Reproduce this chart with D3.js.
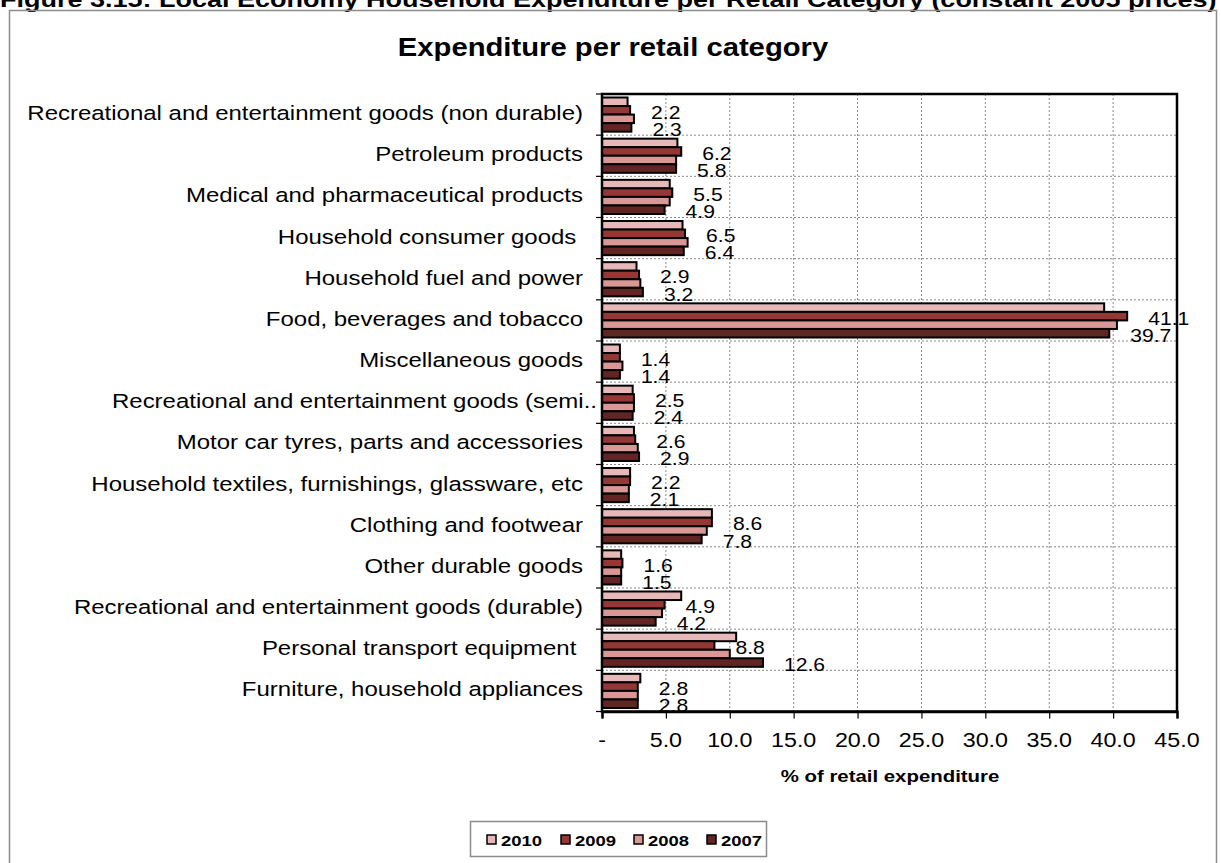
<!DOCTYPE html>
<html>
<head>
<meta charset="utf-8">
<script src="https://cdn.jsdelivr.net/npm/d3@7/dist/d3.min.js"></script>
<style>
  html, body { margin: 0; padding: 0; background: #fff; }
  svg { display: block; }
  text { font-family: Arial, "Liberation Sans", sans-serif; fill: #000; white-space: pre; }
</style>
</head>
<body>
<svg id="chart" width="1221" height="863"></svg>
<script>
// Retail categories, listed top to bottom as drawn
const categories = [
  "Recreational and entertainment goods (non durable)",
  "Petroleum products",
  "Medical and pharmaceutical products",
  "Household consumer goods ",
  "Household fuel and power",
  "Food, beverages and tobacco",
  "Miscellaneous goods",
  "Recreational and entertainment goods (semi..",
  "Motor car tyres, parts and accessories",
  "Household textiles, furnishings, glassware, etc",
  "Clothing and footwear",
  "Other durable goods",
  "Recreational and entertainment goods (durable)",
  "Personal transport equipment ",
  "Furniture, household appliances"
];

// Share of retail expenditure (%) per year
const years = ["2010", "2009", "2008", "2007"];
const values2010 = [2.0, 5.9, 5.3, 6.3, 2.7, 39.3, 1.4, 2.4, 2.5, 2.2, 8.6, 1.5, 6.2, 10.5, 3.0];
const values2009 = [2.2, 6.2, 5.5, 6.5, 2.9, 41.1, 1.4, 2.5, 2.6, 2.2, 8.6, 1.6, 4.9, 8.8, 2.8];
const values2008 = [2.5, 5.8, 5.3, 6.7, 3.0, 40.3, 1.6, 2.5, 2.8, 2.1, 8.2, 1.5, 4.7, 10.0, 2.8];
const values2007 = [2.3, 5.8, 4.9, 6.4, 3.2, 39.7, 1.4, 2.4, 2.9, 2.1, 7.8, 1.5, 4.2, 12.6, 2.8];
const seriesValues = [values2010, values2009, values2008, values2007];
const seriesColors = ["#e6b9b8", "#953735", "#d99795", "#632523"];
const labelledYears = ["2009", "2007"];

const xTicks = [0, 5, 10, 15, 20, 25, 30, 35, 40, 45];

const svg = d3.select("#chart");

// Text helper: glyphs in this figure are drawn slightly wide (sx)
function putText(parent, x, y, str, size, anchor, weight, sx) {
  return parent.append("text")
    .attr("transform", `translate(${x},${y}) scale(${sx || 1.2},1)`)
    .attr("text-anchor", anchor || "start")
    .style("font-size", size + "px")
    .style("font-weight", weight || "normal")
    .text(str);
}

// Figure caption (partly above the page)
putText(svg, 0, 7, "Figure 3.15: Local Economy Household Expenditure per Retail Category (constant 2005 prices)", 22.5, "start", "bold", 1.2);

// Outer chart frame
svg.append("rect")
  .attr("x", 9.5).attr("y", 10.5)
  .attr("width", 1207).attr("height", 870)
  .attr("fill", "none").attr("stroke", "#8c8c8c").attr("stroke-width", 1.5);

// Chart title
putText(svg, 613, 56, "Expenditure per retail category", 25, "middle", "bold", 1.17);

const plot = { left: 602, right: 1177, top: 94, bottom: 711.5 };

const x = d3.scaleLinear().domain([0, 45]).range([plot.left, plot.right]);
const y = d3.scaleBand().domain(categories).range([plot.top, plot.bottom])
  .paddingInner(0.17).paddingOuter(0.085);
const ySeries = d3.scaleBand().domain(years).range([0, y.bandwidth()]).padding(0);
const step = y.step();
const boundaries = d3.range(categories.length + 1).map(i => plot.top + i * step);

const g = svg.append("g");

// Vertical gridlines
g.selectAll("line.vgrid").data(xTicks.slice(1, -1)).join("line")
  .attr("class", "vgrid")
  .attr("x1", d => x(d)).attr("x2", d => x(d))
  .attr("y1", plot.top).attr("y2", plot.bottom)
  .attr("stroke", "#8a8a8a").attr("stroke-width", 1).attr("stroke-dasharray", "2,2");

// Horizontal gridlines at category boundaries
g.selectAll("line.hgrid").data(boundaries.slice(1, -1)).join("line")
  .attr("class", "hgrid")
  .attr("x1", plot.left).attr("x2", plot.right)
  .attr("y1", d => d).attr("y2", d => d)
  .attr("stroke", "#8a8a8a").attr("stroke-width", 1).attr("stroke-dasharray", "2,2");

// Bars
const rows = [];
categories.forEach((c, i) => {
  years.forEach((yr, s) => {
    rows.push({ cat: c, year: yr, value: seriesValues[s][i], color: seriesColors[s] });
  });
});

g.selectAll("rect.bar").data(rows).join("rect")
  .attr("class", "bar")
  .attr("x", x(0))
  .attr("y", d => y(d.cat) + ySeries(d.year))
  .attr("width", d => x(d.value) - x(0))
  .attr("height", ySeries.bandwidth())
  .attr("fill", d => d.color)
  .attr("stroke", "#000").attr("stroke-width", 2);

// Value labels for 2009 and 2007
const labelled = rows.filter(d => labelledYears.includes(d.year));
labelled.forEach(d => {
  const cy = y(d.cat) + ySeries(d.year) + ySeries.bandwidth() / 2;
  putText(g, x(d.value) + 21, cy + 8.5, d3.format(".1f")(d.value), 17.6, "start", "normal", 1.2);
});

// Plot border
g.append("rect")
  .attr("x", plot.left).attr("y", plot.top)
  .attr("width", plot.right - plot.left).attr("height", plot.bottom - plot.top)
  .attr("fill", "none").attr("stroke", "#000").attr("stroke-width", 2.5);

// Category axis ticks at boundaries
g.selectAll("line.ytick").data(boundaries).join("line")
  .attr("class", "ytick")
  .attr("x1", plot.left - 6).attr("x2", plot.left)
  .attr("y1", d => d).attr("y2", d => d)
  .attr("stroke", "#000").attr("stroke-width", 1.2);

// Category labels (a truncated label's trailing dots hang past the column edge)
categories.forEach(c => {
  const right = c.endsWith("..") ? 597 : 583;
  putText(g, right, y(c) + y.bandwidth() / 2 + 5.5, c, 20.5, "end", "normal", 1.17);
});

// Value axis
const xAxis = d3.axisBottom(x).tickValues(xTicks).tickSize(7)
  .tickFormat(d => d === 0 ? "-" : d3.format(".1f")(d));
const ax = g.append("g").attr("transform", `translate(0,${plot.bottom})`).call(xAxis);
ax.select(".domain").attr("stroke", "#000").attr("stroke-width", 2.5);
ax.selectAll(".tick line").attr("stroke", "#000").attr("stroke-width", 1.2);
ax.selectAll(".tick text").remove();
xTicks.forEach(t => {
  putText(g, x(t), 747, t === 0 ? "-" : d3.format(".1f")(t), 19.4, "middle", "normal", 1.2);
});

// Axis title
putText(g, 890, 782, "% of retail expenditure", 17, "middle", "bold", 1.2);

// Legend
const legend = svg.append("g");
legend.append("rect")
  .attr("x", 470.5).attr("y", 821.5).attr("width", 296).attr("height", 35)
  .attr("fill", "#fff").attr("stroke", "#8c8c8c").attr("stroke-width", 1.5);
const legendX = [487, 561, 634, 707];
years.forEach((yr, i) => {
  legend.append("rect")
    .attr("x", legendX[i]).attr("y", 835).attr("width", 9).attr("height", 9)
    .attr("fill", seriesColors[i]).attr("stroke", "#000").attr("stroke-width", 1.5);
  putText(legend, legendX[i] + 14, 846, yr, 15.4, "start", "bold", 1.2);
});
</script>
</body>
</html>
